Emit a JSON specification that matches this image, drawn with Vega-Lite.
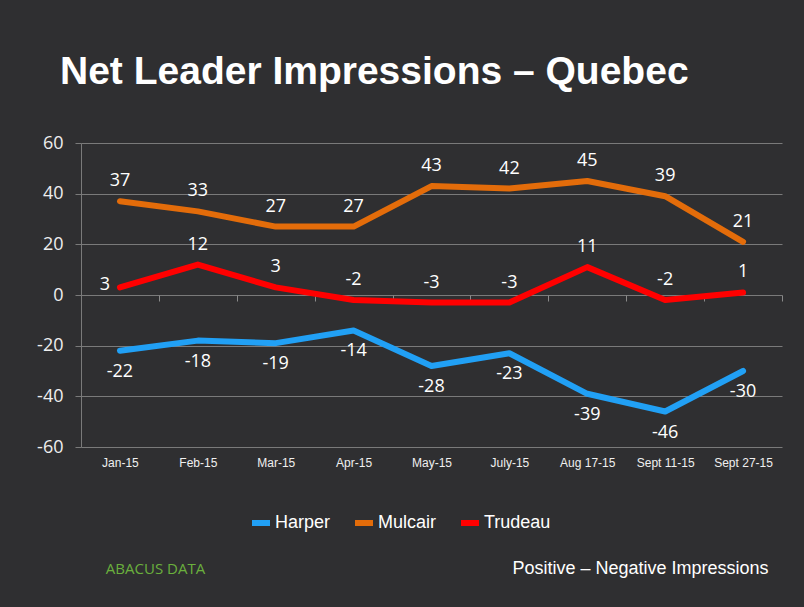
{
  "$schema": "https://vega.github.io/schema/vega-lite/v6.json",
  "width": 701,
  "height": 304,
  "autosize": {"type": "none"},
  "padding": {"left": 81, "top": 143, "right": 22, "bottom": 160},
  "background": "#2f2f31",
  "title": {
    "text": "Net Leader Impressions – Quebec",
    "anchor": "start",
    "frame": "group",
    "dx": -21,
    "dy": 47,
    "offset": 58,
    "baseline": "alphabetic",
    "font": "Liberation Sans",
    "fontWeight": "bold",
    "fontSize": 39,
    "color": "#ffffff"
  },
  "data": {
    "values": [
      {"date": "Jan-15", "leader": "Harper", "value": -22},
      {"date": "Feb-15", "leader": "Harper", "value": -18},
      {"date": "Mar-15", "leader": "Harper", "value": -19},
      {"date": "Apr-15", "leader": "Harper", "value": -14},
      {"date": "May-15", "leader": "Harper", "value": -28},
      {"date": "July-15", "leader": "Harper", "value": -23},
      {"date": "Aug 17-15", "leader": "Harper", "value": -39},
      {"date": "Sept 11-15", "leader": "Harper", "value": -46},
      {"date": "Sept 27-15", "leader": "Harper", "value": -30},
      {"date": "Jan-15", "leader": "Mulcair", "value": 37},
      {"date": "Feb-15", "leader": "Mulcair", "value": 33},
      {"date": "Mar-15", "leader": "Mulcair", "value": 27},
      {"date": "Apr-15", "leader": "Mulcair", "value": 27},
      {"date": "May-15", "leader": "Mulcair", "value": 43},
      {"date": "July-15", "leader": "Mulcair", "value": 42},
      {"date": "Aug 17-15", "leader": "Mulcair", "value": 45},
      {"date": "Sept 11-15", "leader": "Mulcair", "value": 39},
      {"date": "Sept 27-15", "leader": "Mulcair", "value": 21},
      {"date": "Jan-15", "leader": "Trudeau", "value": 3},
      {"date": "Feb-15", "leader": "Trudeau", "value": 12},
      {"date": "Mar-15", "leader": "Trudeau", "value": 3},
      {"date": "Apr-15", "leader": "Trudeau", "value": -2},
      {"date": "May-15", "leader": "Trudeau", "value": -3},
      {"date": "July-15", "leader": "Trudeau", "value": -3},
      {"date": "Aug 17-15", "leader": "Trudeau", "value": 11},
      {"date": "Sept 11-15", "leader": "Trudeau", "value": -2},
      {"date": "Sept 27-15", "leader": "Trudeau", "value": 1}
    ]
  },
  "config": {
    "view": {"stroke": null},
    "font": "Open Sans"
  },
  "layer": [
    {
      "mark": {"type": "line", "strokeWidth": 6, "strokeCap": "round", "strokeJoin": "round"},
      "encoding": {
        "x": {
          "field": "date", "type": "ordinal", "sort": null,
          "scale": {"type": "band", "paddingInner": 0, "paddingOuter": 0},
          "axis": {
            "orient": "bottom",
            "offset": -152,
            "domain": false,
            "ticks": true,
            "tickBand": "extent",
            "tickSize": 6,
            "tickColor": "#8a8a8a",
            "labelAngle": 0,
            "labelPadding": 156,
            "labelFont": "Liberation Sans",
            "labelFontSize": 12,
            "labelColor": "#f0f0f0",
            "title": "Positive – Negative Impressions",
            "titleFont": "Liberation Sans",
            "titleFontSize": 18,
            "titleFontWeight": "normal",
            "titleColor": "#ffffff",
            "titleAnchor": "end",
            "titleAlign": "right",
            "titleBaseline": "alphabetic",
            "titleX": 687,
            "titleY": 278
          }
        },
        "y": {
          "field": "value", "type": "quantitative",
          "scale": {"domain": [-60, 60], "nice": false},
          "axis": {
            "values": [-60, -40, -20, 0, 20, 40, 60],
            "labelExpr": "replace(datum.label, '\u2212', '-')",
            "grid": true,
            "gridColor": "#7a7a7a",
            "gridWidth": 1,
            "domain": true,
            "domainColor": "#7a7a7a",
            "ticks": true,
            "tickSize": 6,
            "tickColor": "#7a7a7a",
            "labelPadding": 12,
            "labelFontSize": 18,
            "labelColor": "#eeeeee",
            "title": "ABACUS DATA",
            "titleAngle": 0,
            "titleX": 74,
            "titleY": 430,
            "titleAlign": "center",
            "titleBaseline": "alphabetic",
            "titleFontSize": 15,
            "titleFontWeight": "normal",
            "titleColor": "#6aaf3d"
          }
        },
        "color": {
          "field": "leader", "type": "nominal",
          "scale": {"domain": ["Harper", "Mulcair", "Trudeau"], "range": ["#21a0f5", "#e36c0a", "#ff0000"]},
          "legend": {
            "title": null,
            "orient": "none",
            "direction": "horizontal",
            "legendX": 168,
            "legendY": 368,
            "symbolType": "stroke",
            "symbolSize": 324,
            "symbolStrokeWidth": 6,
            "labelFont": "Liberation Sans",
            "labelFontSize": 18,
            "labelColor": "#ffffff",
            "labelOffset": 2,
            "columnPadding": 12
          }
        }
      }
    },
    {
      "transform": [{"filter": "datum.leader === 'Mulcair' || (datum.leader === 'Trudeau' && datum.date !== 'Jan-15')"}],
      "mark": {"type": "text", "dy": -20, "fontSize": 18, "color": "#ffffff"},
      "encoding": {
        "x": {"field": "date", "type": "ordinal", "sort": null},
        "y": {"field": "value", "type": "quantitative"},
        "text": {"field": "value"}
      }
    },
    {
      "transform": [{"filter": "datum.leader === 'Trudeau' && datum.date === 'Jan-15'"}],
      "mark": {"type": "text", "dx": -15, "dy": -2, "fontSize": 18, "color": "#ffffff"},
      "encoding": {
        "x": {"field": "date", "type": "ordinal", "sort": null},
        "y": {"field": "value", "type": "quantitative"},
        "text": {"field": "value"}
      }
    },
    {
      "transform": [{"filter": "datum.leader === 'Harper'"}],
      "mark": {"type": "text", "dy": 21, "fontSize": 18, "color": "#ffffff"},
      "encoding": {
        "x": {"field": "date", "type": "ordinal", "sort": null},
        "y": {"field": "value", "type": "quantitative"},
        "text": {"field": "value"}
      }
    }
  ]
}
